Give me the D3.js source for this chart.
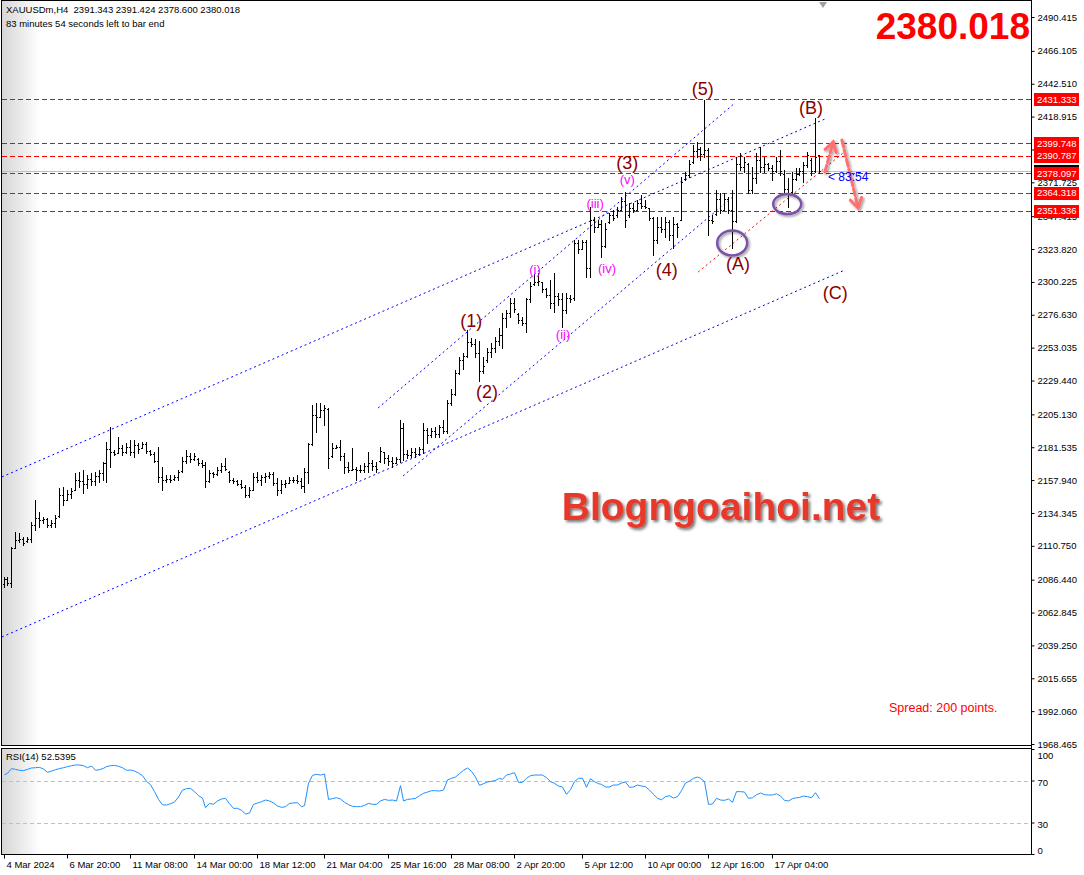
<!DOCTYPE html>
<html><head><meta charset="utf-8">
<script src="https://cdn.jsdelivr.net/npm/d3@7"></script>
<style>body{margin:0;background:#fff}svg{display:block}</style>
</head><body>
<svg id="c" width="1084" height="875"></svg>
<script>
// ---------- DATA ----------
const opens = [2083,2087,2084,2109,2115,2116,2114,2116,2126,2131,2129,2130,2126,2127,2132,2147,2144,2148,2151,2158,2157,2155,2159,2157,2161,2163,2170,2180,2178,2177.5,2181,2178,2182,2178,2183,2181,2184,2179,2177,2172,2160,2158,2159,2158.5,2160,2164.5,2172,2175,2173,2173,2170,2169,2157,2163,2162,2165,2168,2164,2158,2157,2155,2153,2147,2151,2160,2158,2160,2161,2162,2156,2151,2155,2156,2158,2158,2157,2154,2164,2184,2205,2203.5,2208,2209,2175,2181,2182,2175,2167,2165.5,2166,2165,2165,2168,2170,2168,2171.5,2178,2174,2172,2170,2173,2195,2177,2176,2178,2177,2180,2194,2190,2193,2191,2196,2193,2213,2220,2235,2244,2247,2257,2256,2249,2236,2244,2250,2253,2258,2262,2274,2278,2285,2277,2273,2271,2288,2298.5,2300,2300,2295,2291,2285,2290,2288,2280,2289,2289,2328,2324,2329,2310,2345,2340,2342,2326,2343,2348,2348,2352,2358,2348,2353,2352,2357,2355,2353,2346,2330,2340,2338,2343,2334,2342,2345,2374,2377,2386,2394,2396,2392,2395,2345,2349,2360,2352,2360,2352,2344,2385,2383,2385,2366,2375,2388,2383,2385,2382,2380,2387,2378,2367,2365,2374,2378,2380,2384,2388,2380,2391.343];
const highs = [2088.6,2088.6,2110.1,2120.9,2119.7,2117.3,2117.3,2128.1,2143.6,2135.3,2131.7,2130.5,2129.3,2132.9,2152.0,2153.2,2150.8,2152.0,2162.8,2164.0,2165.2,2161.6,2162.8,2164.0,2165.2,2171.2,2185.5,2196.3,2179.5,2189.1,2183.1,2184.3,2186.7,2186.7,2184.3,2185.5,2185.5,2179.5,2178.3,2181.9,2167.6,2161.6,2161.6,2161.6,2165.2,2174.7,2179.5,2177.1,2177.1,2173.5,2172.3,2171.2,2165.2,2164.0,2167.6,2169.9,2173.5,2164.5,2159.2,2158.0,2158.0,2154.4,2153.2,2162.8,2164.0,2161.6,2162.8,2164.0,2164.0,2159.2,2158.0,2158.0,2160.4,2159.9,2161.6,2159.2,2166.4,2184.3,2211.8,2213.0,2213.0,2211.8,2209.4,2184.3,2183.1,2186.7,2177.1,2171.2,2180.7,2167.6,2168.8,2169.9,2178.3,2172.3,2171.2,2181.9,2178.3,2175.9,2174.7,2174.7,2201.1,2198.7,2179.5,2180.7,2180.7,2181.9,2198.7,2195.1,2195.1,2196.3,2197.5,2201.1,2215.4,2223.0,2237.0,2246.6,2249.0,2266.0,2260.0,2259.0,2258.0,2246.6,2252.5,2256.1,2260.9,2266.9,2277.7,2280.1,2288.4,2288.4,2277.7,2275.3,2288.4,2300.4,2305.2,2306.4,2300.4,2295.6,2301.6,2306.4,2292.0,2292.0,2292.0,2290.8,2330.3,2330.3,2330.3,2330.0,2354.3,2347.1,2344.7,2344.7,2342.3,2349.5,2351.9,2354.3,2361.4,2365.0,2356.7,2356.7,2359.1,2362.6,2359.1,2353.5,2347.1,2347.1,2347.1,2347.1,2344.7,2347.1,2342.3,2375.8,2379.4,2387.8,2398.5,2400.9,2397.3,2430.8,2396.1,2348.3,2366.2,2363.8,2363.8,2361.4,2366.2,2390.2,2392.6,2390.2,2385.4,2383.0,2392.6,2397.3,2390.2,2385.4,2384.2,2390.2,2394.9,2380.6,2374.6,2379.4,2381.8,2381.8,2386.6,2393.8,2388.9,2417.7,2391.424];
const lows = [2081.4,2082.6,2081.4,2108.9,2113.7,2111.3,2113.7,2113.7,2122.1,2124.5,2126.9,2124.5,2124.5,2124.5,2131.7,2140.0,2143.6,2144.8,2150.8,2153.2,2148.4,2152.0,2154.4,2154.4,2156.8,2158.0,2156.8,2167.6,2176.0,2177.1,2176.0,2177.1,2176.0,2174.7,2177.1,2180.7,2177.1,2176.0,2171.2,2156.8,2150.8,2156.8,2156.8,2158.0,2158.0,2164.0,2169.9,2171.2,2172.3,2168.8,2167.6,2153.2,2156.8,2160.4,2161.6,2164.0,2165.2,2156.8,2155.6,2154.4,2152.0,2146.0,2146.0,2150.8,2156.8,2154.4,2156.8,2159.2,2154.4,2147.2,2148.4,2153.2,2155.6,2156.8,2155.6,2152.0,2149.6,2155.6,2183.1,2192.7,2203.5,2197.5,2166.4,2174.7,2180.7,2172.3,2162.8,2164.0,2165.2,2158.0,2164.0,2164.0,2164.0,2165.2,2164.0,2171.2,2169.9,2168.8,2167.6,2169.9,2171.2,2172.3,2173.5,2174.7,2174.7,2175.9,2177.1,2184.3,2189.1,2189.1,2189.1,2191.5,2191.5,2212.0,2219.0,2234.0,2238.0,2246.0,2254.0,2246.0,2229.0,2234.6,2243.0,2246.6,2250.2,2254.9,2252.5,2268.1,2275.3,2278.9,2270.5,2269.3,2264.5,2286.1,2298.0,2298.0,2293.2,2289.6,2281.3,2278.9,2283.7,2268.1,2277.7,2286.1,2287.3,2320.8,2323.5,2304.0,2304.0,2336.3,2339.9,2318.4,2325.5,2342.3,2344.7,2347.1,2351.9,2339.9,2347.1,2350.7,2351.9,2353.1,2353.1,2344.7,2319.6,2327.9,2336.3,2332.7,2330.3,2324.9,2332.7,2344.7,2373.4,2375.8,2385.4,2390.2,2387.8,2390.2,2333.9,2342.3,2348.3,2349.5,2351.9,2349.5,2324.9,2343.0,2380.6,2379.4,2363.8,2363.8,2371.0,2379.4,2379.4,2380.6,2373.4,2379.4,2377.0,2363.8,2354.3,2363.8,2373.4,2377.0,2372.2,2383.0,2377.0,2379.4,2378.600];
const closes = [2087,2084,2109,2115,2116,2113,2116,2126,2131,2129,2130,2126,2127,2131,2147,2144,2148,2150,2158,2157,2155,2159,2157,2161,2163,2170,2180,2178,2177,2181,2178,2182,2178,2183,2180,2184,2179,2177,2172,2160,2158,2159,2158,2160,2164,2172,2175,2173,2175,2170,2169,2157,2163,2162,2165,2168,2166,2158,2157,2155,2153,2147,2151,2160,2158,2160,2161,2162,2156,2151,2155,2156,2158,2158,2157,2154,2164,2184,2205,2203,2208,2210,2174,2181,2182,2175,2167,2165,2166,2165,2165,2168,2170,2168,2166,2179,2174,2172,2170,2173,2195,2177,2176,2178,2177,2180,2194,2190,2193,2191,2196,2193,2213,2220,2235,2244,2247,2257,2256,2249,2236,2240,2250,2253,2258,2262,2274,2278,2285,2281,2273,2271,2288,2297,2300,2301,2295,2291,2285,2290,2288,2280,2289,2288,2328,2324,2329,2310,2345,2340,2342,2326,2338,2348,2346,2352,2358,2345,2353,2352,2357,2355,2354,2346,2330,2340,2338,2343,2334,2342,2340,2372,2377,2385,2394,2396,2392,2395,2345,2344,2360,2352,2360,2352,2344,2385,2383,2386,2366,2375,2388,2383,2385,2382,2380,2387,2380,2367,2363,2374,2378,2380,2384,2391,2380,2390,2380.018];
const rsiValues = [75.5,76.8,81.3,80.6,79.7,79.4,80.6,81.9,82.2,82.5,80.9,77.8,79.0,80.3,81.3,82.2,83.2,84.1,84.8,84.8,84.1,82.2,83.8,79.7,80.3,81.6,83.2,84.1,84.4,83.5,82.2,79.7,80.0,79.0,77.1,74.6,69.2,66.0,59.4,52.0,46.7,46.7,47.9,49.5,54.3,60.9,62.2,62.5,59.4,55.5,53.3,44.1,48.2,47.3,50.5,52.4,53.0,47.9,43.5,43.5,41.6,38.1,39.0,47.3,48.6,49.8,51.4,50.5,48.6,45.7,44.4,45.1,48.2,48.6,48.9,45.1,46.0,67.3,74.9,75.9,75.2,76.2,52.0,52.7,53.6,52.4,49.2,47.0,45.4,45.1,45.1,46.3,48.2,47.3,47.3,50.5,52.0,51.1,51.4,50.5,65.1,50.5,52.0,52.4,53.0,55.5,57.8,59.0,60.3,60.3,60.0,60.9,70.5,72.1,73.3,76.5,79.7,81.9,78.7,73.3,65.4,67.0,68.6,69.2,70.1,72.1,71.1,75.2,76.2,77.4,68.2,68.2,72.1,74.6,75.2,75.2,75.2,72.7,68.9,67.3,64.7,63.8,56.8,61.3,68.9,72.1,72.1,63.5,71.7,68.9,67.0,66.3,63.8,63.8,65.7,65.7,67.6,68.6,63.5,63.8,65.7,64.7,64.1,60.9,56.8,53.0,51.7,54.6,55.5,53.3,54.6,60.3,67.6,69.5,72.1,73.3,72.1,68.9,47.3,47.6,53.0,51.4,51.1,52.4,49.2,59.4,59.4,59.0,53.0,53.6,56.5,58.1,56.5,56.2,56.2,57.4,55.2,51.1,50.5,52.7,53.6,53.9,55.2,54.6,53.6,58.4,52.5395];
const priceTicks = [2490.415,2466.105,2442.510,2418.915,2395.320,2371.725,2347.415,2323.820,2300.225,2276.630,2253.035,2229.440,2205.130,2181.535,2157.940,2134.345,2110.750,2086.440,2062.845,2039.250,2015.655,1992.060,1968.465];
const hiddenTickLabels = [2395.320];
const timeLabels = ["4 Mar 2024","6 Mar 20:00","11 Mar 08:00","14 Mar 00:00","18 Mar 12:00","21 Mar 04:00","25 Mar 16:00","28 Mar 08:00","2 Apr 20:00","5 Apr 12:00","10 Apr 00:00","12 Apr 16:00","17 Apr 04:00"];
const timeLabelIdx = [0,16,32,48,64,81,97,113,129,146,162,178,194];
const rsiTicks = [100,70,30,0];
const levelPrices = [2431.333,2399.748,2390.787,2378.097,2364.318,2351.336];
const bidPrice = 2380.018;
// wave labels: [text, bar index, price]
const waveLabels = ["(1)","(2)","(3)","(4)","(5)","(A)","(B)","(C)"];
const waveIdx = [118.1,122.1,157.5,167.5,176.6,185.5,203.9,210.0];
const wavePrice = [2272.2,2221.2,2385.6,2308.8,2438.7,2313.1,2425.4,2292.2];
const subLabels = ["(i)","(ii)","(iii)","(iv)","(v)"];
const subIdx = [134.2,141.3,149.4,152.4,157.5];
const subPrice = [2309.5,2262.8,2356.9,2310.2,2374.1];
// trend lines [idx1, price1, idx2, price2]
const blueLines = [[-0.4,2160.2,208.0,2417.9],[-0.4,2045.3,212.5,2308.8],[94.6,2209.7,184.7,2428.7],[100.9,2160.9,184.7,2362.6]];
const redLines = [[175.4,2307.3,212.0,2392.8]];
const arrows = [[207.4,2379.1,209.5,2400.7],[211.7,2402.1,215.8,2353.3]];
const ellipses = [[184.0,2328.2,15,12.5],[197.9,2356.1,14,10]];
const countdown = {text:"< 83:54", idx:208.2, price:2375.5};

// ---------- SCALES ----------
const N = closes.length;
const x = d3.scaleLinear().domain([0, 206]).range([3.5, 819.3]);
const y = d3.scaleLinear().domain([1968.465, 2490.415]).range([744, 17]);
const yR = d3.scaleLinear().domain([0, 100]).range([854, 749]);
const FONT = "'Liberation Sans', Arial, sans-serif";

const svg = d3.select("#c");
const defs = svg.append("defs");
defs.append("clipPath").attr("id","mainClip").append("rect").attr("x",2).attr("y",1).attr("width",1029).attr("height",744);
defs.append("clipPath").attr("id","rsiClip").append("rect").attr("x",2).attr("y",749).attr("width",1029).attr("height",105);
const lg = defs.append("linearGradient").attr("id","lg").attr("x1",0).attr("x2",1).attr("y1",0).attr("y2",0);
lg.append("stop").attr("offset",0).attr("stop-color","#d6d6d6");
lg.append("stop").attr("offset",1).attr("stop-color","#ffffff");
const sh = defs.append("filter").attr("id","shadow").attr("x","-30%").attr("y","-30%").attr("width","160%").attr("height","160%");
sh.append("feDropShadow").attr("dx",1.5).attr("dy",1.5).attr("stdDeviation",1.2).attr("flood-color","#000").attr("flood-opacity",0.4);
const sh2 = defs.append("filter").attr("id","shadow2").attr("x","-10%").attr("y","-30%").attr("width","120%").attr("height","160%");
sh2.append("feDropShadow").attr("dx",2).attr("dy",2).attr("stdDeviation",1.5).attr("flood-color","#000").attr("flood-opacity",0.55);

svg.append("rect").attr("width",1084).attr("height",875).attr("fill","#fff");
svg.append("rect").attr("x",2).attr("y",1).attr("width",38).attr("height",744).attr("fill","url(#lg)");
svg.append("rect").attr("x",2).attr("y",749).attr("width",38).attr("height",105).attr("fill","url(#lg)");

const main = svg.append("g").attr("clip-path","url(#mainClip)");

// bid line
main.append("line").attr("x1",2).attr("x2",1031).attr("y1",Math.round(y(bidPrice))+0.5).attr("y2",Math.round(y(bidPrice))+0.5)
  .attr("stroke","#c0c0c0").attr("stroke-width",1);
// horizontal levels
main.selectAll("line.lvl").data(levelPrices).join("line").attr("class","lvl")
  .attr("x1",2).attr("x2",1031)
  .attr("y1",d=>Math.round(y(d))+0.5).attr("y2",d=>Math.round(y(d))+0.5)
  .attr("stroke","#ff0000").attr("stroke-width",1).attr("stroke-dasharray","5,3");

// blue trend lines
main.selectAll("line.bl").data(blueLines).join("line").attr("class","bl")
  .attr("x1",d=>x(d[0])).attr("y1",d=>y(d[1])).attr("x2",d=>x(d[2])).attr("y2",d=>y(d[3]))
  .attr("stroke","#0000ff").attr("stroke-width",1).attr("stroke-dasharray","2,3");

// bars
const bars = main.append("g").attr("fill","#000");
d3.range(N).forEach(i=>{
  const cx = Math.round(x(i));
  const yh = Math.round(y(highs[i])), yl = Math.round(y(lows[i]));
  bars.append("rect").attr("x",cx).attr("y",yh).attr("width",1).attr("height",Math.max(1,yl-yh+1));
  bars.append("rect").attr("x",cx-1).attr("y",Math.round(y(opens[i]))).attr("width",1).attr("height",1);
  bars.append("rect").attr("x",cx+1).attr("y",Math.round(y(closes[i]))).attr("width",1).attr("height",1);
});

// red dotted line
main.selectAll("line.rl").data(redLines).join("line").attr("class","rl")
  .attr("x1",d=>x(d[0])).attr("y1",d=>y(d[1])).attr("x2",d=>x(d[2])).attr("y2",d=>y(d[3]))
  .attr("stroke","#ff0000").attr("stroke-width",1).attr("stroke-dasharray","2,3");

// ellipses
main.selectAll("ellipse").data(ellipses).join("ellipse")
  .attr("cx",d=>x(d[0])).attr("cy",d=>y(d[1])).attr("rx",d=>d[2]).attr("ry",d=>d[3])
  .attr("fill","none").attr("stroke","#7a52a8").attr("stroke-width",2.5).attr("filter","url(#shadow)");

// arrows
arrows.forEach(a=>{
  const x1=x(a[0]), y1=y(a[1]), x2=x(a[2]), y2=y(a[3]);
  const ang = Math.atan2(y2-y1, x2-x1), L = 11, s = 0.55;
  const g = main.append("g").attr("filter","url(#shadow)").attr("stroke","#ff6f6f").attr("stroke-width",3).attr("fill","none").attr("stroke-linecap","round");
  g.append("line").attr("x1",x1).attr("y1",y1).attr("x2",x2).attr("y2",y2).attr("stroke-dasharray","7,3");
  g.append("path").attr("d",`M${x2-L*Math.cos(ang-s)},${y2-L*Math.sin(ang-s)}L${x2},${y2}L${x2-L*Math.cos(ang+s)},${y2-L*Math.sin(ang+s)}`);
});

// wave labels
main.selectAll("text.wv").data(waveLabels).join("text").attr("class","wv")
  .attr("x",(d,i)=>x(waveIdx[i])).attr("y",(d,i)=>y(wavePrice[i])).attr("dy","0.35em")
  .attr("text-anchor","middle").attr("font-family",FONT).attr("font-size",18).attr("fill","#8b0000").text(d=>d);
main.selectAll("text.sb").data(subLabels).join("text").attr("class","sb")
  .attr("x",(d,i)=>x(subIdx[i])).attr("y",(d,i)=>y(subPrice[i])).attr("dy","0.35em")
  .attr("text-anchor","middle").attr("font-family",FONT).attr("font-size",13).attr("fill","#ff00ff").text(d=>d);
main.append("text").attr("x",x(countdown.idx)).attr("y",y(countdown.price)).attr("dy","0.35em")
  .attr("font-family",FONT).attr("font-size",12).attr("fill","#0000ff").text(countdown.text);

// watermark
svg.append("text").attr("x",721).attr("y",520).attr("text-anchor","middle").attr("font-family",FONT).attr("font-weight","bold")
  .attr("font-size",39).attr("fill","#e8372c").attr("filter","url(#shadow2)").text("Blogngoaihoi.net");
svg.append("text").attr("x",889).attr("y",712).attr("font-family",FONT).attr("font-size",12.5).attr("fill","#ff0000").text("Spread: 200 points.");

// header
svg.append("text").attr("x",6).attr("y",13).attr("font-family",FONT).attr("font-size",9.5).attr("fill","#000").style("white-space","pre")
  .text("XAUUSDm,H4  2391.343 2391.424 2378.600 2380.018");
svg.append("text").attr("x",6).attr("y",27).attr("font-family",FONT).attr("font-size",9.5).attr("fill","#000")
  .text("83 minutes 54 seconds left to bar end");
svg.append("text").attr("x",1030).attr("y",39).attr("text-anchor","end").attr("font-family",FONT).attr("font-weight","bold")
  .attr("font-size",37).attr("fill","#ff0000").text(d3.format(".3f")(bidPrice));
svg.append("path").attr("d","M819,2L827,2L823,8Z").attr("fill","#a0a0a0");

// ---------- RSI ----------
const rsiG = svg.append("g").attr("clip-path","url(#rsiClip)");
rsiG.selectAll("line.rl").data([70,30]).join("line")
  .attr("x1",2).attr("x2",1031).attr("y1",d=>Math.round(yR(d))+0.5).attr("y2",d=>Math.round(yR(d))+0.5)
  .attr("stroke","#c0c0c0").attr("stroke-dasharray","4,3");
rsiG.append("path").datum(rsiValues)
  .attr("d",d3.line().x((d,i)=>Math.round(x(i))+0.5).y(d=>yR(d)))
  .attr("fill","none").attr("stroke","#1e90ff").attr("stroke-width",1);
svg.append("text").attr("x",6).attr("y",760).attr("font-family",FONT).attr("font-size",9.5).attr("fill","#000")
  .text("RSI(14) " + d3.format(".4f")(rsiValues[rsiValues.length-1]));

// ---------- FRAMES ----------
const fr = svg.append("g").attr("stroke","#000").attr("fill","none").attr("stroke-width",1);
fr.append("rect").attr("x",1.5).attr("y",0.5).attr("width",1030).attr("height",745);
fr.append("rect").attr("x",1.5).attr("y",748.5).attr("width",1030).attr("height",106);
fr.append("line").attr("x1",1031.5).attr("x2",1031.5).attr("y1",0).attr("y2",855);

// ---------- AXES ----------
const yAxis = d3.axisRight(y).tickValues(priceTicks).tickSize(3).tickPadding(3)
  .tickFormat(d=>hiddenTickLabels.includes(d)?"":d3.format(".3f")(d));
svg.append("g").attr("transform","translate(1031.5,0)").call(yAxis)
  .attr("font-family",FONT).attr("font-size",9.5)
  .call(g=>g.select(".domain").remove())
  .call(g=>g.selectAll("line").attr("stroke","#000"))
  .call(g=>g.selectAll("text").attr("fill","#000"));

// bid label (black) then level labels (red)
const lab = svg.append("g").attr("font-family",FONT).attr("font-size",9.5);
lab.append("rect").attr("x",1034).attr("y",Math.round(y(bidPrice))-6).attr("width",45).attr("height",12).attr("fill","#000");
levelPrices.forEach(p=>{
  lab.append("rect").attr("x",1034).attr("y",Math.round(y(p))-6).attr("width",45).attr("height",13).attr("fill","#ff0000");
  lab.append("text").attr("x",1037).attr("y",y(p)).attr("dy","0.36em").attr("fill","#fff").text(d3.format(".3f")(p));
});

// RSI axis
const rAxis = d3.axisRight(yR).tickValues(rsiTicks).tickSize(3).tickPadding(3).tickFormat(d3.format("d"));
svg.append("g").attr("transform","translate(1031.5,0)").call(rAxis)
  .attr("font-family",FONT).attr("font-size",9.5)
  .call(g=>g.select(".domain").remove())
  .call(g=>g.selectAll("line").attr("stroke","#000"))
  .call(g=>g.selectAll("text").attr("fill","#000").attr("dy",d=>d===100?"0.95em":d===0?"-0.1em":"0.55em"));

// time axis
const xAxis = d3.axisBottom(x).tickValues(timeLabelIdx).tickSize(4).tickPadding(2).tickFormat((d,i)=>timeLabels[i]);
svg.append("g").attr("transform","translate(0,854.5)").call(xAxis)
  .attr("font-family",FONT).attr("font-size",9.5)
  .call(g=>g.select(".domain").remove())
  .call(g=>g.selectAll(".tick").attr("transform",d=>`translate(${Math.round(x(d))+0.5},0)`))
  .call(g=>g.selectAll("line").attr("stroke","#000"))
  .call(g=>g.selectAll("text").attr("text-anchor","start").attr("x",2).attr("y",4).attr("dy","0.95em").attr("fill","#000"));
</script>
</body></html>
